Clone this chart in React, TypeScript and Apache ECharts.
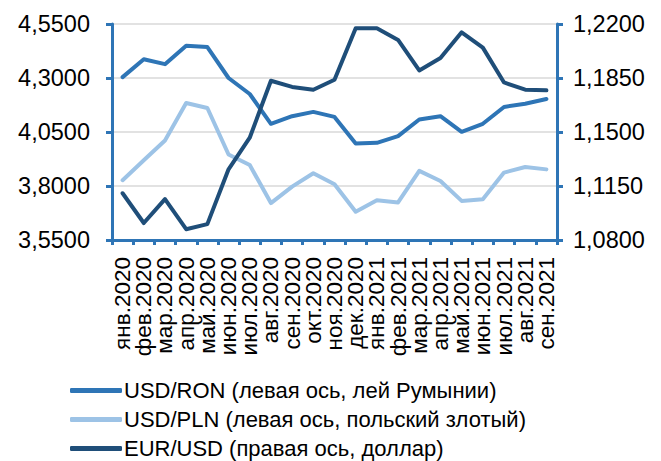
import React, { useEffect, useRef } from "react";
import * as echarts from "echarts";

const categories = [
  "янв.2020", "фев.2020", "мар.2020", "апр.2020", "май.2020", "июн.2020", "июл.2020",
  "авг.2020", "сен.2020", "окт.2020", "ноя.2020", "дек.2020", "янв.2021", "фев.2021",
  "мар.2021", "апр.2021", "май.2021", "июн.2021", "июл.2021", "авг.2021", "сен.2021",
];

const usdRon = [
  4.304, 4.387, 4.364, 4.449, 4.443, 4.300, 4.226, 4.088, 4.123, 4.143, 4.120,
  3.997, 4.000, 4.031, 4.108, 4.123, 4.051, 4.088, 4.166, 4.181, 4.203,
];

const usdPln = [
  3.827, 3.919, 4.011, 4.184, 4.161, 3.946, 3.897, 3.721, 3.797, 3.859, 3.808,
  3.681, 3.734, 3.724, 3.870, 3.823, 3.731, 3.739, 3.862, 3.888, 3.877,
];

const eurUsd = [
  1.1103, 1.0910, 1.1065, 1.0870, 1.0903, 1.1258, 1.1463, 1.1832, 1.1792, 1.1774, 1.1839,
  1.2172, 1.2172, 1.2097, 1.1899, 1.1979, 1.2146, 1.2047, 1.1821, 1.1774, 1.1770,
];

const seriesNames = [
  "USD/RON (левая ось, лей Румынии)",
  "USD/PLN (левая ось, польский злотый)",
  "EUR/USD (правая ось, доллар)",
];

const markerCategory = "янв.2021";

const FONT = "'Liberation Sans', Arial, sans-serif";
const AXIS_COLOR = "#2e75b6";

const fmt = (v: number) => v.toFixed(4).replace(".", ",");

export default function App() {
  const ref = useRef<HTMLDivElement>(null);

  useEffect(() => {
    if (!ref.current) return;
    const chart = echarts.init(ref.current, undefined, { renderer: "svg" });
    chart.setOption({
      animation: false,
      textStyle: { fontFamily: FONT },
      grid: { left: 112, right: 104, top: 24, bottom: 221, containLabel: false },
      legend: {
        orient: "vertical",
        left: 70,
        top: 376,
        height: 90,
        padding: 0,
        itemGap: 0,
        itemWidth: 52,
        itemHeight: 5,
        icon: "roundRect",
        textStyle: { fontSize: 22, color: "#000", fontFamily: FONT, lineHeight: 29, padding: [0, 0, 0, -3] },
        data: seriesNames,
      },
      xAxis: {
        type: "category",
        data: categories,
        boundaryGap: true,
        axisLine: { lineStyle: { color: AXIS_COLOR, width: 3 } },
        axisTick: { show: true, length: 5, lineStyle: { color: AXIS_COLOR, width: 3 } },
        axisLabel: { interval: 0, rotate: 90, fontSize: 22.5, color: "#000", margin: 17, fontFamily: FONT },
        splitLine: { show: false },
      },
      yAxis: [
        {
          type: "value",
          min: 3.55,
          max: 4.55,
          interval: 0.25,
          position: "left",
          axisLine: { show: true, lineStyle: { color: AXIS_COLOR, width: 3 } },
          axisTick: { show: true, length: 6, lineStyle: { color: AXIS_COLOR, width: 3 } },
          axisLabel: { fontSize: 23.5, color: "#000", margin: 22, formatter: fmt, fontFamily: FONT },
          splitLine: { show: true, lineStyle: { color: "#d9d9d9", width: 1.5 } },
        },
        {
          type: "value",
          min: 1.08,
          max: 1.22,
          interval: 0.035,
          position: "right",
          axisLine: { show: true, lineStyle: { color: AXIS_COLOR, width: 3 } },
          axisTick: { show: true, length: 6, lineStyle: { color: AXIS_COLOR, width: 3 } },
          axisLabel: { fontSize: 23.5, color: "#000", margin: 16, formatter: fmt, fontFamily: FONT },
          splitLine: { show: false },
        },
      ],
      series: [
        {
          name: seriesNames[0],
          type: "line",
          yAxisIndex: 0,
          data: usdRon,
          showSymbol: false,
          symbol: "none",
          lineStyle: { color: "#2e75b6", width: 4, join: "round", cap: "round" },
          itemStyle: { color: "#2e75b6" },
          markLine: {
            silent: true,
            symbol: "none",
            label: { show: false },
            lineStyle: { color: "#2e75b6", width: 1.5, type: "solid" },
            data: [[{ coord: [markerCategory, 4.585] }, { coord: [markerCategory, 3.55] }]],
          },
        },
        {
          name: seriesNames[1],
          type: "line",
          yAxisIndex: 0,
          data: usdPln,
          showSymbol: false,
          symbol: "none",
          lineStyle: { color: "#9dc3e6", width: 4, join: "round", cap: "round" },
          itemStyle: { color: "#9dc3e6" },
        },
        {
          name: seriesNames[2],
          type: "line",
          yAxisIndex: 1,
          data: eurUsd,
          showSymbol: false,
          symbol: "none",
          lineStyle: { color: "#1f4e79", width: 4, join: "round", cap: "round" },
          itemStyle: { color: "#1f4e79" },
        },
      ],
    });
    return () => chart.dispose();
  }, []);

  return <div ref={ref} style={{ width: 661, height: 461, position: "absolute", left: 0, top: 0 }} />;
}
